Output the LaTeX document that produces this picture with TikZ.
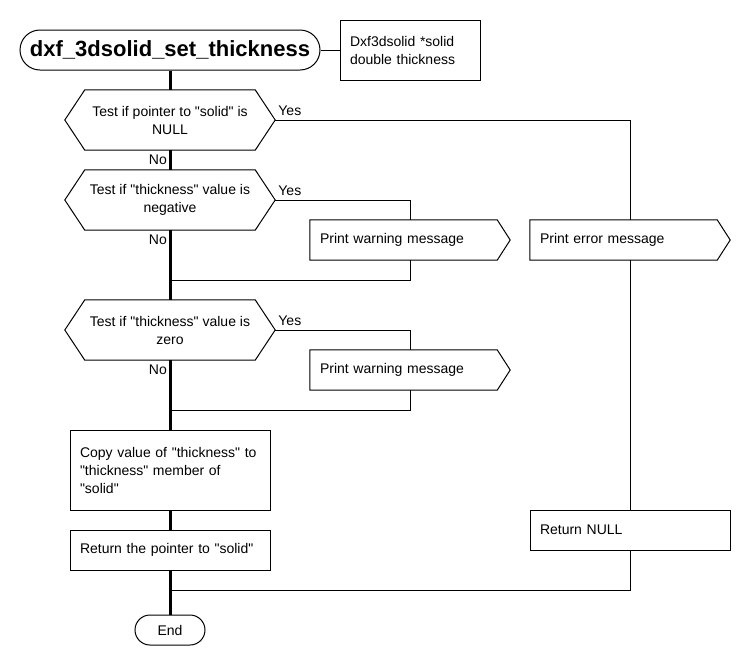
\documentclass[tikz,border=0pt]{standalone}
\usepackage{fontspec}
\setmainfont{Liberation Sans}[Ligatures=TeXOff]
\usepackage{tikz}
\usetikzlibrary{positioning}
\tikzset{
  flowtxt/.style={ font=\fontsize{14}{18}\selectfont }
}
\tikzset{
  termbox/.style={ draw, line width=1pt, rounded corners=#1, inner sep=0pt }
}
\tikzset{
  procbox/.style={ draw, line width=1pt, flowtxt, align=left, text width=180pt, inner xsep=10pt, inner ysep=0pt, minimum height=#1 }
}
\tikzset{
  testnode/.style={ flowtxt, align=center, minimum width=210pt, minimum height=60pt, inner sep=0pt }
}
\tikzset{
  signode/.style={ flowtxt, align=left, text width=180pt, inner xsep=10pt, inner ysep=0pt, minimum height=40pt }
}
\tikzset{
  spine/.style={ line width=3pt },
  wire/.style={ line width=1pt },
  yeslab/.style={ flowtxt, anchor=south west, inner xsep=3pt, inner ysep=4pt },
  nolab/.style={ flowtxt, anchor=north east, inner xsep=3pt, inner ysep=4pt }
}

\begin{document}
\begin{tikzpicture}[x=1pt, y=-1pt]
      \useasboundingbox (0,0) rectangle (750,670);

      \node[termbox=20pt, minimum width=300pt, minimum height=40pt, font=\fontsize{22}{26}\selectfont\bfseries] (title) at (170, 50) {dxf\_3dsolid\_set\_thickness};
      \node[procbox=60pt, text width=120pt] (note) at (410, 50) {Dxf3dsolid *solid\\double thickness};

      \node[testnode] (testA) at (170, 120) {Test if pointer to "solid" is\\NULL};
      \node[testnode] (testB) at (170, 200) {Test if "thickness" value is\\negative};
      \node[testnode] (testC) at (170, 330) {Test if "thickness" value is\\zero};

      \node[signode] (warnA) at (410, 240) {Print warning message};
      \node[signode] (warnB) at (410, 370) {Print warning message};
      \node[signode] (err) at (630, 240) {Print error message};

      \node[procbox=80pt] (copy) at (170, 470) {Copy value of "thickness" to\\"thickness" member of\\"solid"};
      \node[procbox=40pt] (retptr) at (170, 550) {Return the pointer to "solid"};
      \node[procbox=40pt] (retnull) at (630, 530) {Return NULL};
      \node[termbox=15pt, flowtxt, minimum width=70pt, minimum height=30pt] (end) at (170, 630) {End};

      \coordinate (joinA) at (170, 280);
      \coordinate (joinB) at (170, 410);
      \coordinate (joinC) at (170, 590);

      % outlines of the tests and the message boxes
      \foreach \n in {testA, testB, testC}
        \draw[wire] (\n.west) -- ([xshift=20pt]\n.north west) -- ([xshift=-20pt]\n.north east) -- (\n.east)
          -- ([xshift=-20pt]\n.south east) -- ([xshift=20pt]\n.south west) -- cycle;
      \foreach \n in {warnA, warnB, err}
        \draw[wire] (\n.north west) -- ([xshift=-13pt]\n.north east) -- (\n.east)
          -- ([xshift=-13pt]\n.south east) -- (\n.south west) -- cycle;

      \draw[wire] (title) -- (note);

      \draw[spine] (title) -- (testA);
      \draw[spine] (testA) -- (testB);
      \draw[spine] (testB) -- (testC);
      \draw[spine] (testC) -- (copy);
      \draw[spine] (copy) -- (retptr);
      \draw[spine] (retptr) -- (end);

      \draw[wire] (testA.east) -| (err.north);
      \draw[wire] (err) -- (retnull);
      \draw[wire] (retnull.south) |- (joinC);
      \draw[wire] (testB.east) -| (warnA.north);
      \draw[wire] (warnA.south) |- (joinA);
      \draw[wire] (testC.east) -| (warnB.north);
      \draw[wire] (warnB.south) |- (joinB);

      \node[yeslab] (yesA) at (testA.east) {Yes};
      \node[yeslab] (yesB) at (testB.east) {Yes};
      \node[yeslab] (yesC) at (testC.east) {Yes};
      \node[nolab] (noA) at (testA.south) {No};
      \node[nolab] (noB) at (testB.south) {No};
      \node[nolab] (noC) at (testC.south) {No};
    \end{tikzpicture}
\end{document}
